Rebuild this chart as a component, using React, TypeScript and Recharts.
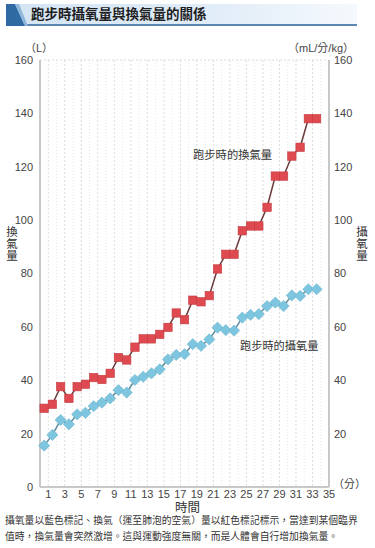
import React from "react";
import { LineChart, Line, XAxis, YAxis, CartesianGrid, ReferenceLine } from "recharts";

const minutes = [1, 2, 3, 4, 5, 6, 7, 8, 9, 10, 11, 12, 13, 14, 15, 16, 17, 18, 19, 20, 21, 22, 23, 24, 25, 26, 27, 28, 29, 30, 31, 32, 33, 34];
const ventilation = [29.5, 31, 37.6, 33.2, 37.6, 38.5, 41, 40.3, 42.6, 48.5, 47.6, 52.4, 55.5, 55.5, 57.2, 59.8, 65.2, 62.7, 70, 69.4, 71.7, 81.7, 87.2, 87.2, 96, 97.8, 97.8, 104.8, 116.5, 116.5, 124, 127.3, 138, 138];
const oxygenUptake = [15.5, 19.5, 25.1, 23.5, 27.2, 27.8, 30.3, 31.6, 33.2, 36.3, 35.4, 40.1, 41.3, 42.6, 44.1, 47.8, 49.5, 49.8, 53.5, 52.9, 55.3, 59.7, 58.8, 58.6, 63.5, 64.5, 64.8, 67.8, 69.1, 67.8, 71.8, 71.6, 74.1, 74.1];
const xTicks = [1, 3, 5, 7, 9, 11, 13, 15, 17, 19, 21, 23, 25, 27, 29, 31, 33, 35];
const xMinorTicks = [2, 4, 6, 8, 10, 12, 14, 16, 18, 20, 22, 24, 26, 28, 30, 32, 34];
const yTicks = [0, 20, 40, 60, 80, 100, 120, 140, 160];

const title = "跑步時攝氧量與換氣量的關係";
const leftUnit = "（L）";
const rightUnit = "（mL/分/kg）";
const leftAxisTitle = "換氣量";
const rightAxisTitle = "攝氧量";
const xUnit = "（分）";
const xTitle = "時間";
const ventLabel = "跑步時的換氣量";
const o2Label = "跑步時的攝氧量";
const caption1 = "攝氧量以藍色標記、換氣（運至肺泡的空氣）量以紅色標記標示，當達到某個臨界";
const caption2 = "值時，換氣量會突然激增。這與運動強度無關，而是人體會自行增加換氣量。";

// each minute's reading is drawn at the middle of its one-minute interval
const data = minutes.map((m, i) => ({ t: m - 0.5, vent: ventilation[i], o2: oxygenUptake[i] }));

const FONT = "'Liberation Sans', Arial, 'Noto Sans CJK TC', sans-serif";

const RedSquare = (props: any) => {
  const { cx, cy, index } = props;
  if (cx == null || cy == null) return null;
  return <rect key={"r" + index} x={cx - 4.2} y={cy - 4.2} width={8.4} height={8.4} fill="#df4a50" stroke="#c23c41" strokeWidth={0.6} />;
};

const BlueDiamond = (props: any) => {
  const { cx, cy, index } = props;
  if (cx == null || cy == null) return null;
  const r = 5.6;
  return (
    <polygon
      key={"b" + index}
      points={`${cx},${cy - r} ${cx + r},${cy} ${cx},${cy + r} ${cx - r},${cy}`}
      fill="#7ec6df"
      stroke="#6ab3cc"
      strokeWidth={0.6}
    />
  );
};

const abs = (style: React.CSSProperties): React.CSSProperties => ({ position: "absolute", whiteSpace: "nowrap", ...style });

export default function App() {
  return (
    <div style={{ position: "absolute", left: 0, top: 0, width: 375, height: 548, background: "#fff", fontFamily: FONT, overflow: "hidden" }}>
      {/* title bar */}
      <div style={abs({ left: 6, top: 4, width: 351, height: 20, background: "linear-gradient(to right, #d3e4f3 0%, #e1edf8 60%, #f5f9fd 100%)", borderBottom: "2px solid #5b87b3" })} />
      <svg style={abs({ left: 6, top: 4 })} width={22} height={22}>
        <polygon points="0,0 9,0 19,22 0,22" fill="#2f6aa3" />
        <polygon points="9,0 13,0 22,22 19,22" fill="#8fb7dc" />
      </svg>
      <div style={abs({ left: 31, top: 5, fontSize: 13.5, fontWeight: 700, color: "#1e1e1e", lineHeight: "19px" })}>{title}</div>

      {/* units */}
      <div style={abs({ left: 25, top: 41, fontSize: 11, color: "#444", lineHeight: "14px" })}>{leftUnit}</div>
      <div style={abs({ left: 288, top: 41, fontSize: 11, color: "#444", lineHeight: "14px" })}>{rightUnit}</div>

      <div style={abs({ left: 0, top: 0 })}>
        <LineChart width={375} height={548} data={data} margin={{ top: 60, right: 0, left: 0, bottom: 41 }}>
          <CartesianGrid stroke="#dcdcdc" strokeDasharray="2 2" />
          {xMinorTicks.map((m) => (
            <ReferenceLine key={m} x={m} yAxisId="L" stroke="#e6e6e6" strokeDasharray="1 2" />
          ))}
          <XAxis
            dataKey="t"
            type="number"
            domain={[0, 35]}
            ticks={xTicks}
            interval={0}
            height={20}
            tickSize={0}
            tickMargin={3}
            axisLine={{ stroke: "#c8c8c8", strokeWidth: 2 }}
            tick={{ fontSize: 11, fill: "#444", fontFamily: FONT }}
          />
          <YAxis
            yAxisId="L"
            orientation="left"
            domain={[0, 160]}
            ticks={yTicks}
            width={40}
            tickSize={0}
            tickMargin={7}
            axisLine={{ stroke: "#c8c8c8", strokeWidth: 2 }}
            tick={{ fontSize: 11, fill: "#444", fontFamily: FONT }}
          />
          <YAxis
            yAxisId="R"
            orientation="right"
            domain={[0, 160]}
            ticks={yTicks.filter((v) => v > 0)}
            width={46}
            tickSize={0}
            tickMargin={5}
            axisLine={{ stroke: "#c8c8c8", strokeWidth: 2 }}
            tick={{ fontSize: 11, fill: "#444", fontFamily: FONT }}
          />
          <Line yAxisId="R" dataKey="o2" stroke="#5f8fa2" strokeWidth={1.5} dot={<BlueDiamond />} isAnimationActive={false} />
          <Line yAxisId="L" dataKey="vent" stroke="#6a3a3a" strokeWidth={1.5} dot={<RedSquare />} isAnimationActive={false} />
        </LineChart>
      </div>

      {/* axis titles */}
      <div style={abs({ left: 6, top: 226, width: 12, fontSize: 11.5, lineHeight: "12px", color: "#333", whiteSpace: "normal", textAlign: "center" })}>
        {leftAxisTitle.split("").map((c, i) => (
          <div key={i}>{c}</div>
        ))}
      </div>
      <div style={abs({ left: 356, top: 226, width: 12, fontSize: 11.5, lineHeight: "12px", color: "#333", whiteSpace: "normal", textAlign: "center" })}>
        {rightAxisTitle.split("").map((c, i) => (
          <div key={i}>{c}</div>
        ))}
      </div>

      {/* series annotations */}
      <div style={abs({ left: 193, top: 148, fontSize: 11.3, color: "#333", lineHeight: "14px" })}>{ventLabel}</div>
      <div style={abs({ left: 240, top: 339, fontSize: 11.2, color: "#333", lineHeight: "14px" })}>{o2Label}</div>

      {/* x unit & title */}
      <div style={abs({ left: 333, top: 477, fontSize: 11, color: "#444", lineHeight: "14px" })}>{xUnit}</div>
      <div style={abs({ left: 175, top: 502, fontSize: 12.5, color: "#333", lineHeight: "12px" })}>{xTitle}</div>

      {/* caption */}
      <div style={abs({ left: 5, top: 513, fontSize: 9.8, color: "#333", lineHeight: "16px" })}>
        <div>{caption1}</div>
        <div>{caption2}</div>
      </div>
    </div>
  );
}
